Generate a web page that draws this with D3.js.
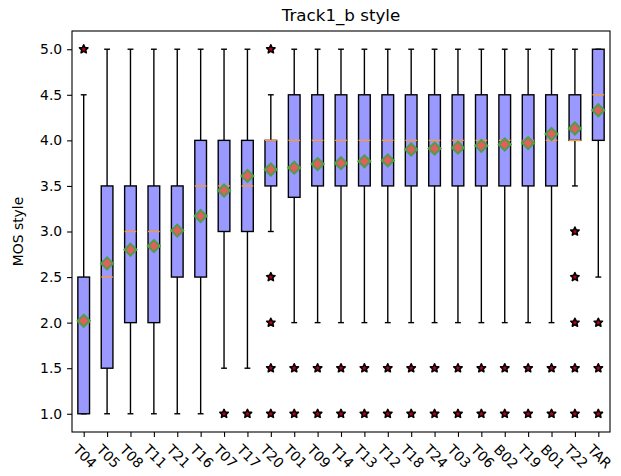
<!DOCTYPE html>
<html>
<head>
<meta charset="utf-8">
<script src="https://cdn.jsdelivr.net/npm/d3@7"></script>
<style>
body{margin:0;background:#fff;}
text{font-family:"DejaVu Sans",sans-serif;fill:#000;}
</style>
</head>
<body>
<svg id="chart" width="621" height="476"></svg>
<script>
const title = "Track1_b style";
const yLabel = "MOS style";
const categories = ["T04","T05","T08","T11","T21","T16","T07","T17","T20","T01","T09","T14","T13","T12","T18","T24","T03","T06","B02","T19","B01","T22","TAR"];
const q1 =        [1.0,1.5,2.0,2.0,2.5,2.5,3.0,3.0,3.5,3.375,3.5,3.5,3.5,3.5,3.5,3.5,3.5,3.5,3.5,3.5,3.5,4.0,4.0];
const medians =   [2.0,2.5,3.0,3.0,3.0,3.5,3.5,3.5,4.0,4.0,4.0,4.0,4.0,4.0,4.0,4.0,4.0,4.0,4.0,4.0,4.0,4.0,4.5];
const q3 =        [2.5,3.5,3.5,3.5,3.5,4.0,4.0,4.0,4.0,4.5,4.5,4.5,4.5,4.5,4.5,4.5,4.5,4.5,4.5,4.5,4.5,4.5,5.0];
const whiskerLo = [1.0,1.0,1.0,1.0,1.0,1.0,1.5,1.5,3.0,2.0,2.0,2.0,2.0,2.0,2.0,2.0,2.0,2.0,2.0,2.0,2.0,3.5,2.5];
const whiskerHi = [4.5,5.0,5.0,5.0,5.0,5.0,5.0,5.0,4.5,5.0,5.0,5.0,5.0,5.0,5.0,5.0,5.0,5.0,5.0,5.0,5.0,5.0,5.0];
const means =     [2.02,2.65,2.80,2.84,3.01,3.17,3.45,3.61,3.68,3.70,3.74,3.75,3.77,3.78,3.90,3.91,3.92,3.94,3.955,3.97,4.07,4.13,4.33];
const outliers = [
  [5.0],[],[],[],[],[],[1.0],[1.0],[5.0,2.5,2.0,1.5,1.0],
  [1.5,1.0],[1.5,1.0],[1.5,1.0],[1.5,1.0],[1.5,1.0],[1.5,1.0],[1.5,1.0],[1.5,1.0],[1.5,1.0],[1.5,1.0],[1.5,1.0],[1.5,1.0],
  [3.0,2.5,2.0,1.5,1.0],[2.0,1.5,1.0]
];
const yTicks = [1.0,1.5,2.0,2.5,3.0,3.5,4.0,4.5,5.0];

const svg = d3.select("#chart");
const L = 72, R = 610, T = 31, B = 432;
const n = categories.length;
const x = d3.scaleLinear().domain([0.5, n + 0.5]).range([L, R]);
const y = d3.scaleLinear().domain([0.8, 5.2]).range([B, T]);
const bw = (x(1.25) - x(0.75));
const cw = bw / 2;
const lw = 1.39;

// axes
const yAxis = d3.axisLeft(y).tickValues(yTicks).tickFormat(d3.format(".1f")).tickSizeOuter(0).tickSize(4.9).tickPadding(4.9);
const gy = svg.append("g").attr("transform", `translate(${L},0)`).call(yAxis);
gy.select(".domain").remove();
gy.selectAll("line").attr("stroke", "#000").attr("stroke-width", 1.1);
gy.selectAll("text").style("font-size", "13.9px").style("font-family", "DejaVu Sans");

const xAxis = d3.axisBottom(x).tickValues(d3.range(1, n + 1)).tickFormat("").tickSizeOuter(0).tickSize(4.9);
const gx = svg.append("g").attr("transform", `translate(0,${B})`).call(xAxis);
gx.select(".domain").remove();
gx.selectAll("line").attr("stroke", "#000").attr("stroke-width", 1.1);

// rotated x labels
const xl = svg.append("g");
categories.forEach((c, i) => {
  const t = xl.append("text").text(c)
    .style("font-size", "13.9px")
    .attr("text-anchor", "middle")
    .attr("dy", "0.32em");
  const w = t.node().getComputedTextLength();
  const h = 13.9 * 1.0;
  const off = (w + h) * Math.SQRT1_2 / 2;
  t.attr("transform", `translate(${x(i + 1) + 1},${B + 10.5 + off}) rotate(45)`);
});

// boxes
const g = svg.append("g");
categories.forEach((c, i) => {
  const cx = x(i + 1);
  g.append("line").attr("x1", cx).attr("x2", cx).attr("y1", y(q1[i])).attr("y2", y(whiskerLo[i]))
    .attr("stroke", "#000").attr("stroke-width", lw);
  g.append("line").attr("x1", cx).attr("x2", cx).attr("y1", y(q3[i])).attr("y2", y(whiskerHi[i]))
    .attr("stroke", "#000").attr("stroke-width", lw);
  g.append("line").attr("x1", cx - cw / 2).attr("x2", cx + cw / 2).attr("y1", y(whiskerLo[i])).attr("y2", y(whiskerLo[i]))
    .attr("stroke", "#000").attr("stroke-width", lw);
  g.append("line").attr("x1", cx - cw / 2).attr("x2", cx + cw / 2).attr("y1", y(whiskerHi[i])).attr("y2", y(whiskerHi[i]))
    .attr("stroke", "#000").attr("stroke-width", lw);
  g.append("rect").attr("x", cx - bw / 2).attr("width", bw)
    .attr("y", y(q3[i])).attr("height", Math.max(0, y(q1[i]) - y(q3[i])))
    .attr("fill", "#9999ff").attr("stroke", "#000").attr("stroke-width", lw);
  g.append("line").attr("x1", cx - bw / 2).attr("x2", cx + bw / 2).attr("y1", y(medians[i])).attr("y2", y(medians[i]))
    .attr("stroke", "#ff9a30").attr("stroke-width", lw);
});

// outliers (stars)
function starPath(ro, ri) {
  let p = [];
  for (let k = 0; k < 10; k++) {
    const r = k % 2 === 0 ? ro : ri;
    const a = -Math.PI / 2 + k * Math.PI / 5;
    p.push([r * Math.cos(a), r * Math.sin(a)]);
  }
  return "M" + p.map(d => d[0].toFixed(2) + "," + d[1].toFixed(2)).join("L") + "Z";
}
const sp = starPath(4.4, 2.1);
categories.forEach((c, i) => {
  outliers[i].forEach(v => {
    g.append("path").attr("d", sp).attr("transform", `translate(${x(i + 1)},${y(v)})`)
      .attr("fill", "#b0001e").attr("stroke", "#000").attr("stroke-width", 1.6).attr("stroke-linejoin", "round");
  });
});

// means (diamonds)
categories.forEach((c, i) => {
  const r = 6;
  g.append("path").attr("d", `M0,${-r}L${r},0L0,${r}L${-r},0Z`)
    .attr("transform", `translate(${x(i + 1)},${y(means[i])})`)
    .attr("fill", "#e0605a").attr("stroke", "#4e9e4a").attr("stroke-width", 2);
});

// frame
svg.append("rect").attr("x", L).attr("y", T).attr("width", R - L).attr("height", B - T)
  .attr("fill", "none").attr("stroke", "#000").attr("stroke-width", 1.1);

// title
svg.append("text").attr("x", (L + R) / 2).attr("y", 21).attr("text-anchor", "middle")
  .style("font-size", "16.7px").text(title);

// y label
svg.append("text").attr("transform", `translate(23,${(T + B) / 2}) rotate(-90)`)
  .attr("text-anchor", "middle").style("font-size", "13.9px").text(yLabel);
</script>
</body>
</html>
